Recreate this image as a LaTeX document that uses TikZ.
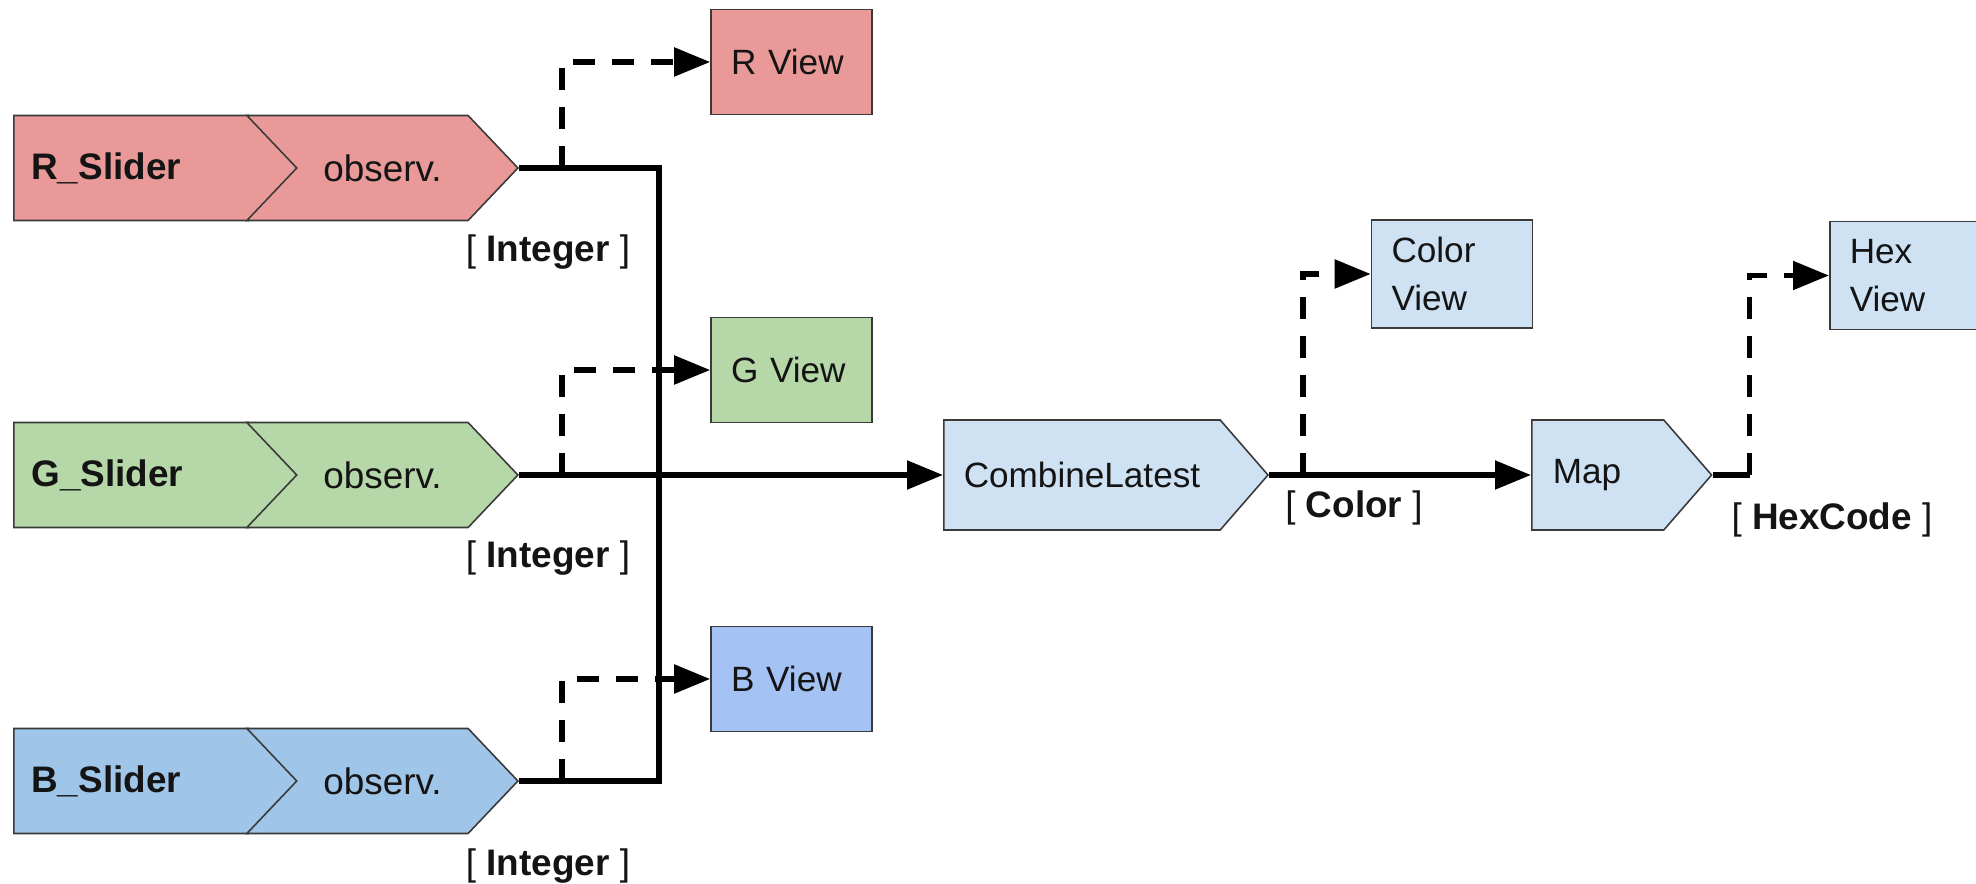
\documentclass[tikz,border=0pt]{standalone}
\usepackage{fontspec}
\setmainfont{Liberation Sans}
\usetikzlibrary{arrows.meta,positioning,shapes.symbols}
\definecolor{Ink}{HTML}{141414}
\definecolor{Edge}{HTML}{3A3A3A}
\definecolor{RedSoft}{HTML}{EA9999}
\definecolor{GreenSoft}{HTML}{B6D7A8}
\definecolor{BlueSoft}{HTML}{9FC5E8}
\definecolor{Cornflower}{HTML}{A4C2F4}
\definecolor{PaleBlue}{HTML}{CFE2F3}
\tikzset{
  box/.style={draw=Edge,line width=0.45pt,text=Ink,inner ysep=0pt,font=\fontsize{10}{13.6}\selectfont},
  sliderbox/.style={box,signal,signal to=east,signal pointer angle=93,minimum height=1.05cm,
    text width=2.0cm,inner xsep=0.175cm,align=left,font=\fontsize{10.5}{12}\selectfont\bfseries},
  observbox/.style={box,signal,signal from=west,signal to=east,signal pointer angle=93,
    minimum height=1.05cm,minimum width=2.71cm,inner xsep=0pt,font=\fontsize{10.5}{12}\selectfont},
  opbox/.style={box,signal,signal to=east,signal pointer angle=98,minimum height=1.10cm,inner xsep=0.2cm,fill=PaleBlue},
  viewbox/.style={box,minimum height=1.05cm,text width=1.21cm,inner xsep=0.2cm,align=left},
  typelabel/.style={font=\fontsize{10.5}{12}\selectfont,text=Ink,inner sep=0pt},
  pipe/.style={line width=1.5pt,draw=black},
  pipearrow/.style={pipe,-{Triangle[length=3.6mm,width=2.8mm]}},
  tap/.style={pipe,dash pattern=on 2.2mm off 1.7mm,-{Triangle[length=3.6mm,width=2.8mm]}}
}
\begin{document}
\begin{tikzpicture}
  \useasboundingbox (0,0) rectangle (19.76,-8.84);
  % slider streams
  \node[sliderbox,fill=RedSoft,anchor=west] (rslider) at (0.13,-1.68) {R\_Slider};
  \node[observbox,fill=RedSoft,anchor=east] (robs) at (5.19,-1.68) {observ.};
  \node[sliderbox,fill=GreenSoft,anchor=west] (gslider) at (0.13,-4.75) {G\_Slider};
  \node[observbox,fill=GreenSoft,anchor=east] (gobs) at (5.19,-4.75) {observ.};
  \node[sliderbox,fill=BlueSoft,anchor=west] (bslider) at (0.13,-7.81) {B\_Slider};
  \node[observbox,fill=BlueSoft,anchor=east] (bobs) at (5.19,-7.81) {observ.};
  \node[typelabel] (rtype) at (5.48,-2.52) {[ \textbf{Integer} ]};
  \node[typelabel] (gtype) at (5.48,-5.58) {[ \textbf{Integer} ]};
  \node[typelabel] (btype) at (5.48,-8.66) {[ \textbf{Integer} ]};
  % views
  \node[viewbox,fill=RedSoft] (rview) at (7.915,-0.62) {R View};
  \node[viewbox,fill=GreenSoft] (gview) at (7.915,-3.70) {G View};
  \node[viewbox,fill=Cornflower] (bview) at (7.915,-6.79) {B View};
  % operators
  \node[opbox,anchor=west] (combine) at (9.43,-4.75) {CombineLatest};
  \node[opbox,anchor=west,text width=0.9cm,inner xsep=0.21cm,align=left] (mapop) at (15.31,-4.75) {Map};
  \node[viewbox,fill=PaleBlue,minimum height=1.08cm] (colorview) at (14.52,-2.74) {Color\\View};
  \node[viewbox,fill=PaleBlue,minimum height=1.08cm,anchor=west] (hexview) at (18.29,-2.755) {Hex\\View};
  \node[typelabel] (colortype) at (13.54,-5.08) {[ \textbf{Color} ]};
  \node[typelabel] (hextype) at (18.32,-5.20) {[ \textbf{HexCode} ]};
  % connections
  \draw[pipe] (robs.east) -- ++(1.40,0) |- (bobs.east);
  \draw[pipearrow] (gobs.east) -- (combine.west);
  \draw[tap] ([xshift=4.3mm]robs.east) |- (rview.west);
  \draw[tap] ([xshift=4.3mm]gobs.east) |- (gview.west);
  \draw[tap] ([xshift=4.3mm]bobs.east) |- (bview.west);
  \draw[pipearrow] (combine.east) -- (mapop.west);
  \draw[tap] ([xshift=3.4mm]combine.east) |- (colorview.west);
  \coordinate (hextap) at ([xshift=3.7mm]mapop.east);
  \draw[pipe] (mapop.east) -- (hextap);
  \draw[tap] (hextap) |- (hexview.west);
\end{tikzpicture}
\end{document}
